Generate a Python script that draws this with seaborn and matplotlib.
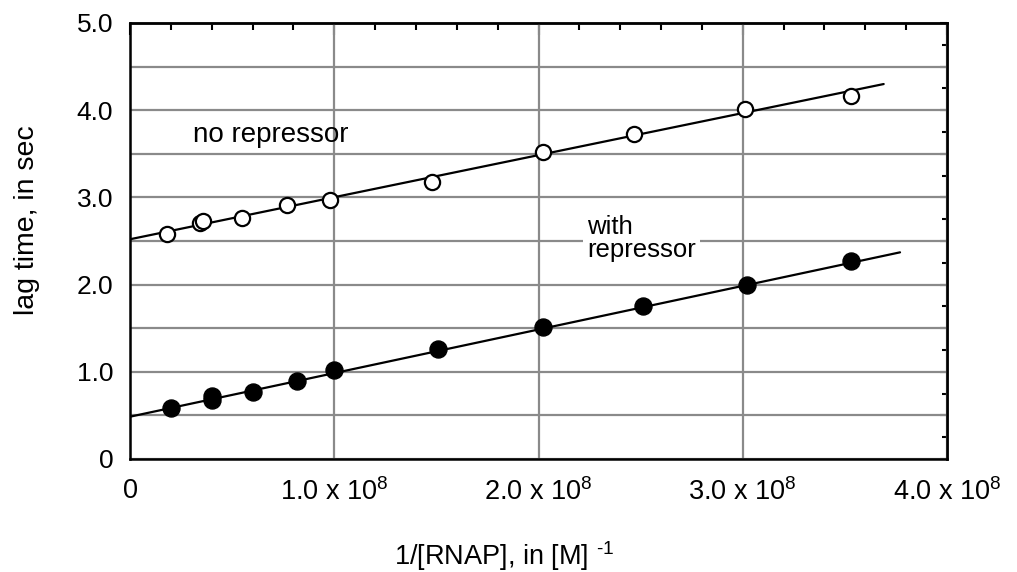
import numpy as np
import seaborn as sns
import matplotlib.pyplot as plt
from matplotlib.ticker import MultipleLocator, FixedLocator, FuncFormatter

# no repressor (open circles)
x_none = [0.18e8, 0.345e8, 0.355e8, 0.55e8, 0.77e8, 0.98e8, 1.48e8, 2.02e8, 2.47e8, 3.01e8, 3.53e8]
y_none = [2.58, 2.71, 2.73, 2.76, 2.91, 2.97, 3.18, 3.52, 3.73, 4.01, 4.16]

# with repressor (filled circles)
x_rep = [0.20e8, 0.40e8, 0.40e8, 0.60e8, 0.82e8, 1.00e8, 1.51e8, 2.02e8, 2.51e8, 3.02e8, 3.53e8]
y_rep = [0.59, 0.68, 0.72, 0.77, 0.89, 1.02, 1.26, 1.51, 1.75, 2.00, 2.27]

# fitted straight lines
fit_none_x = [0, 3.69e8]
fit_none_y = [2.52, 4.30]
fit_rep_x = [0, 3.77e8]
fit_rep_y = [0.485, 2.37]

sns.set_style("white")
plt.rcParams['font.family'] = ['Liberation Sans', 'DejaVu Sans']
plt.rcParams['mathtext.fontset'] = 'custom'
plt.rcParams['mathtext.rm'] = 'Liberation Sans'
plt.rcParams['mathtext.default'] = 'regular'
plt.rcParams['text.color'] = 'black'
plt.rcParams['axes.labelcolor'] = 'black'
plt.rcParams['xtick.color'] = 'black'
plt.rcParams['ytick.color'] = 'black'

fig = plt.figure(figsize=(10.17, 5.72), dpi=100)
ax = fig.add_axes([130/1017, 1-459/572, 817/1017, 436/572])

grid_col = "#8a8a8a"
sns.lineplot(x=fit_none_x, y=fit_none_y, color="black", lw=1.6, ax=ax, zorder=3)
sns.lineplot(x=fit_rep_x, y=fit_rep_y, color="black", lw=1.6, ax=ax, zorder=3)
sns.scatterplot(x=x_none, y=y_none, s=120, facecolor="white", edgecolor="black",
                linewidth=1.6, ax=ax, zorder=4)
sns.scatterplot(x=x_rep, y=y_rep, s=150, color="black", edgecolor="black",
                linewidth=1.0, ax=ax, zorder=4)

ax.set_xlim(0, 4e8)
ax.set_ylim(0, 5)

# grid
ax.xaxis.set_major_locator(FixedLocator([0, 1e8, 2e8, 3e8, 4e8]))
ax.xaxis.set_minor_locator(MultipleLocator(0.2e8))
ax.yaxis.set_major_locator(MultipleLocator(0.5))
ax.yaxis.set_minor_locator(MultipleLocator(0.25))
ax.grid(True, which="major", color=grid_col, lw=1.6, zorder=1)


def xfmt(v, pos):
    if v == 0:
        return "0"
    return r"%.1f x 10$^8$" % (v / 1e8)


def yfmt(v, pos):
    if abs(v - round(v)) > 1e-6:
        return ""
    if v == 0:
        return "0"
    return "%.1f" % v


ax.xaxis.set_major_formatter(FuncFormatter(xfmt))
ax.yaxis.set_major_formatter(FuncFormatter(yfmt))
ax.tick_params(axis="x", which="major", direction="in", length=15, width=1.5,
               labelsize=19.5, pad=14, colors="black")
ax.tick_params(axis="x", which="minor", direction="in", length=9, width=1.5)
ax.tick_params(axis="y", which="major", direction="in", length=5, width=1.5,
               labelsize=19, pad=12, colors="black")
ax.tick_params(axis="y", which="minor", direction="in", length=3.5, width=1.5)

for s in ax.spines.values():
    s.set_color("black")
    s.set_linewidth(1.8)
    s.set_zorder(5)

# top and right ticks
top = ax.secondary_xaxis("top")
top.xaxis.set_major_locator(FixedLocator([0, 1e8, 2e8, 3e8, 4e8]))
top.xaxis.set_minor_locator(MultipleLocator(0.2e8))
top.tick_params(which="major", direction="in", length=8.5, width=1.5, labeltop=False)
top.tick_params(which="minor", direction="in", length=5, width=1.5)
right = ax.secondary_yaxis("right")
right.yaxis.set_major_locator(MultipleLocator(0.5))
right.yaxis.set_minor_locator(MultipleLocator(0.25))
right.tick_params(which="major", direction="in", length=5, width=1.5, labelright=False)
right.tick_params(which="minor", direction="in", length=3.5, width=1.5)
for sec in (top, right):
    for s in sec.spines.values():
        s.set_linewidth(1.8)

ax.text(0.31e8, 3.72, "no repressor", fontsize=20, va="center", ha="left", zorder=6)
ax.text(2.24e8, 2.53, "with\nrepressor", fontsize=18.5, va="center", ha="left",
        linespacing=0.95, zorder=6,
        bbox=dict(facecolor="white", edgecolor="none", pad=3))

ax.set_ylabel("lag time, in sec", fontsize=20.5)
ax.yaxis.set_label_coords(-0.110, 0.548)
ax.set_xlabel(r"1/[RNAP], in [M] $^{\text{-1}}$", fontsize=19.5, va="top")
ax.xaxis.set_label_coords(0.458, -0.183)

fig.savefig("out.png", dpi=100)
